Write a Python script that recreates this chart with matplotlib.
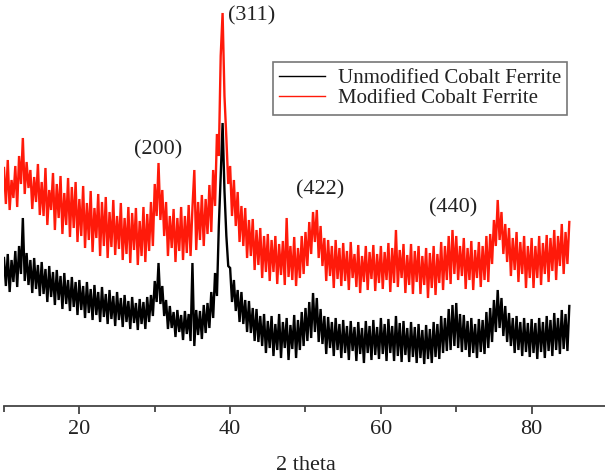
import numpy as np
import matplotlib
matplotlib.use('Agg')
import matplotlib.pyplot as plt

# Intensidades (unidades arbitrarias), paso de 0.25 grados desde 10 hasta 85
modificado = [
  238, 202, 246, 196, 226, 208, 240, 199, 250, 222, 268, 212, 244, 218, 236, 197, 229, 204, 242, 191,
  224, 190, 238, 181, 216, 196, 233, 176, 222, 188, 230, 172, 213, 181, 228, 169, 219, 178, 224, 164,
  207, 170, 220, 158, 203, 166, 215, 154, 198, 168, 212, 150, 204, 160, 209, 148, 194, 159, 206, 151,
  190, 157, 203, 146, 188, 152, 199, 143, 193, 156, 198, 141, 185, 150, 199, 144, 192, 155, 204, 160,
  222, 190, 243, 186, 216, 170, 204, 150, 190, 158, 197, 144, 188, 155, 199, 146, 190, 153, 201, 150,
  198, 236, 156, 204, 166, 211, 160, 207, 172, 221, 174, 236, 200, 272, 250, 350, 393, 310, 268, 222,
  240, 190, 226, 180, 214, 164, 200, 160, 198, 148, 186, 150, 187, 136, 176, 141, 178, 128, 170, 134,
  172, 125, 166, 134, 170, 122, 162, 131, 165, 121, 188, 129, 160, 126, 169, 120, 158, 128, 170, 132,
  174, 140, 184, 152, 194, 164, 196, 148, 180, 140, 168, 125, 166, 130, 160, 118, 166, 127, 158, 120,
  163, 125, 155, 116, 164, 128, 152, 119, 161, 113, 150, 124, 160, 116, 154, 127, 161, 115, 152, 123,
  160, 117, 154, 126, 163, 114, 158, 123, 176, 119, 156, 128, 162, 113, 151, 121, 162, 112, 155, 124,
  160, 112, 150, 121, 158, 108, 153, 118, 160, 111, 152, 123, 164, 116, 160, 126, 170, 122, 176, 132,
  170, 126, 160, 130, 168, 117, 158, 126, 165, 116, 156, 128, 164, 119, 160, 126, 170, 124, 172, 142,
  186, 160, 206, 166, 194, 152, 182, 144, 178, 130, 168, 136, 174, 124, 164, 132, 170, 118, 160, 128,
  168, 118, 160, 128, 170, 121, 163, 132, 171, 124, 168, 135, 176, 126, 170, 140, 182, 132, 174, 142,
  184]

sin_modificar = [
  148, 120, 152, 114, 146, 124, 155, 119, 160, 132, 188, 125, 153, 121, 146, 113, 148, 117, 141, 110,
  144, 112, 137, 104, 140, 109, 134, 101, 136, 106, 130, 97, 133, 102, 126, 95, 129, 99, 124, 91,
  126, 96, 120, 88, 124, 93, 117, 86, 121, 91, 114, 84, 119, 89, 112, 82, 116, 87, 110, 80,
  114, 86, 108, 79, 111, 84, 105, 77, 109, 83, 103, 76, 107, 82, 104, 77, 109, 84, 111, 90,
  125, 104, 143, 102, 120, 90, 106, 77, 100, 78, 94, 69, 96, 74, 91, 66, 95, 72, 92, 65,
  143, 60, 96, 71, 95, 67, 101, 73, 103, 78, 114, 88, 133, 110, 180, 230, 283, 215, 170, 140,
  138, 104, 126, 95, 116, 84, 114, 82, 106, 74, 105, 73, 98, 65, 97, 64, 90, 60, 92, 53,
  85, 58, 90, 50, 82, 56, 92, 48, 84, 58, 88, 46, 81, 57, 91, 48, 86, 56, 94, 60,
  98, 65, 104, 68, 113, 74, 108, 64, 97, 62, 90, 52, 89, 58, 84, 50, 88, 56, 82, 48,
  86, 53, 80, 46, 85, 55, 79, 45, 84, 52, 78, 43, 85, 53, 80, 46, 86, 51, 79, 47,
  88, 52, 82, 45, 87, 53, 80, 45, 90, 50, 83, 44, 85, 51, 78, 44, 84, 49, 79, 43,
  82, 48, 76, 42, 81, 47, 77, 43, 84, 49, 82, 47, 90, 53, 88, 55, 97, 56, 101, 60,
  103, 58, 92, 54, 91, 56, 85, 49, 88, 53, 82, 48, 87, 54, 86, 52, 94, 58, 98, 64,
  106, 74, 116, 78, 108, 70, 100, 64, 93, 60, 88, 53, 90, 56, 84, 50, 88, 54, 83, 49,
  87, 53, 83, 47, 88, 54, 84, 48, 90, 55, 86, 50, 93, 56, 88, 52, 96, 57, 92, 55,
  100]

# Picos y sus indices de Miller
picos = ['(200)', '(311)', '(422)', '(440)']
pos_picos = [30.5, 42.8, 52.0, 69.6]
alt_picos = [256, 390, 216, 198]

theta_mod = np.linspace(10, 85, len(modificado))
theta_sin = np.linspace(10, 85, len(sin_modificar))

plt.rcParams['font.family'] = ['Liberation Serif', 'DejaVu Serif']

fig = plt.figure(figsize=(6.05, 4.74), dpi=100)
ax = fig.add_axes([4/605, 68/474, 603/605, 406/474])

# linea gruesa para que el ruido forme una banda como en el difractograma
l2, = ax.plot(theta_mod, modificado, color='#ff1a0a', lw=1.7, solid_joinstyle='miter')
l1, = ax.plot(theta_sin, sin_modificar, color='black', lw=1.7, solid_joinstyle='miter')

for nombre, x, y in zip(picos, pos_picos, alt_picos):
  ax.text(x, y, nombre, ha='center', va='center', fontsize=16, color='#222222')

ax.set_xlim(10, 90)
ax.set_ylim(0, 406)

for lado in ['left', 'right', 'top']:
  ax.spines[lado].set_visible(False)
ax.spines['bottom'].set_color('#444444')
ax.spines['bottom'].set_linewidth(1.3)
ax.set_yticks([])
ax.set_xticks([20, 40, 60, 80])
ax.set_xticks([10, 30, 50, 70, 90], minor=True)
ax.tick_params(axis='x', which='major', direction='out', length=6, width=1.3, color='#444444',
               labelsize=16, labelcolor='#222222', pad=4)
ax.tick_params(axis='x', which='minor', direction='out', length=4, width=1.3, color='#444444')
ax.set_xlabel('2 theta', fontsize=16, color='#222222', labelpad=12)

h1 = plt.Line2D([], [], color='black', lw=1)
h2 = plt.Line2D([], [], color='#ff1a0a', lw=1)
leg = ax.legend([h1, h2], ['Unmodified Cobalt Ferrite', 'Modified Cobalt Ferrite'],
                loc='upper left', bbox_to_anchor=(269/603, 1 - 62/406), fontsize=15,
                frameon=True, fancybox=False, handlelength=2.2, borderpad=0.3,
                labelspacing=0.05, handletextpad=0.6, borderaxespad=0)
leg.get_frame().set_edgecolor('#555555')
leg.get_frame().set_linewidth(1.2)
for t in leg.get_texts():
  t.set_color('#222222')

plt.savefig('out.png', dpi=100)
